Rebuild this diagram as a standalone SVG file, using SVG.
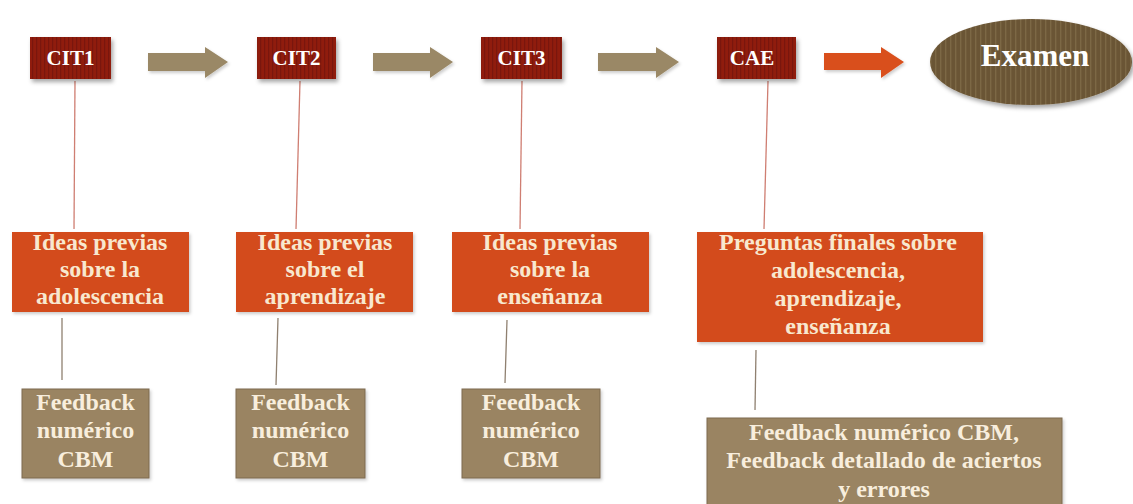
<svg xmlns="http://www.w3.org/2000/svg" width="1133" height="504" viewBox="0 0 1133 504">
  <style>
    .lbl { font-family: "Liberation Serif", "Times New Roman", serif; font-weight: bold; text-anchor: middle; }
    .cit { fill: url(#stripeRed); filter: url(#shadow); }
    .cit-t { font-size: 21px; fill: #FFFFFF; }
    .idea { fill: #D34B1B; filter: url(#soft); }
    .idea-t { font-size: 24px; fill: #F8E8CF; }
    .fb { fill: #9A8462; stroke: #7C6A50; stroke-width: 1; filter: url(#soft); }
    .fb-t { font-size: 24px; fill: #F8EEDD; }
    .link-top { stroke: #CF7E72; stroke-width: 1.3; fill: none; }
    .link-bot { stroke: #8F8070; stroke-width: 1.3; fill: none; }
    .arr-tan { fill: #9A8866; filter: url(#soft); }
    .arr-red { fill: #D9501E; filter: url(#soft); }
  </style>
  <defs>
    <pattern id="stripeRed" width="4" height="10" patternUnits="userSpaceOnUse">
      <rect width="4" height="10" fill="#901C10"/>
      <rect width="1.3" height="10" fill="#7A140A"/>
    </pattern>
    <pattern id="stripeBrown" width="5" height="10" patternUnits="userSpaceOnUse">
      <rect width="5" height="10" fill="#6A5535"/>
      <rect width="1.4" height="10" fill="#7C6744"/>
    </pattern>
    <filter id="shadow" x="-20%" y="-20%" width="150%" height="160%">
      <feDropShadow dx="2" dy="3" stdDeviation="2" flood-color="#000" flood-opacity="0.35"/>
    </filter>
    <filter id="soft" x="-20%" y="-20%" width="150%" height="160%">
      <feDropShadow dx="1.5" dy="2" stdDeviation="1.5" flood-color="#000" flood-opacity="0.2"/>
    </filter>
  </defs>

  <rect width="1133" height="504" fill="#FFFFFF"/>

  <!-- connectors -->
  <g id="connectors">
    <line class="link-top" x1="75" y1="81" x2="74" y2="229"/>
    <line class="link-top" x1="300" y1="81" x2="296" y2="229"/>
    <line class="link-top" x1="522" y1="81" x2="520" y2="229"/>
    <line class="link-top" x1="768" y1="81" x2="764" y2="229"/>
    <line class="link-bot" x1="62" y1="318" x2="62" y2="380"/>
    <line class="link-bot" x1="278" y1="318" x2="276" y2="385"/>
    <line class="link-bot" x1="507" y1="320" x2="505" y2="383"/>
    <line class="link-bot" x1="756" y1="350" x2="755" y2="410"/>
    <polygon class="arr-tan" points="148,53 205,53 205,47 228,62 205,78 205,71 148,71"/>
    <polygon class="arr-tan" points="373,53 430,53 430,47 453,62 430,78 430,71 373,71"/>
    <polygon class="arr-tan" points="598,53 656,53 656,47 679,62 656,78 656,71 598,71"/>
    <polygon class="arr-red" points="824,53 881,53 881,47 904,62 881,78 881,70 824,70"/>
  </g>

  <!-- top row -->
  <g id="cit1">
    <rect class="cit" x="30" y="37" width="81" height="42"/>
    <text class="lbl cit-t" x="70.5" y="65">CIT1</text>
  </g>
  <g id="cit2">
    <rect class="cit" x="257" y="37" width="79" height="42"/>
    <text class="lbl cit-t" x="296.5" y="65">CIT2</text>
  </g>
  <g id="cit3">
    <rect class="cit" x="481" y="37" width="81" height="42"/>
    <text class="lbl cit-t" x="521.5" y="65">CIT3</text>
  </g>
  <g id="cae">
    <rect class="cit" x="717" y="37" width="79" height="42"/>
    <text class="lbl cit-t" x="752" y="65">CAE</text>
  </g>
  <g id="examen">
    <ellipse cx="1031" cy="62" rx="101" ry="43" fill="url(#stripeBrown)" filter="url(#shadow)"/>
    <text class="lbl" x="1035" y="66" font-size="31" fill="#FFFFFF">Examen</text>
  </g>

  <!-- middle row -->
  <g id="ideas-adolescencia">
    <rect class="idea" x="12" y="232" width="177" height="80"/>
    <text class="lbl idea-t" x="100" y="250">Ideas previas</text>
    <text class="lbl idea-t" x="100" y="277">sobre la</text>
    <text class="lbl idea-t" x="100" y="304">adolescencia</text>
  </g>
  <g id="ideas-aprendizaje">
    <rect class="idea" x="236" y="232" width="177" height="80"/>
    <text class="lbl idea-t" x="325" y="250">Ideas previas</text>
    <text class="lbl idea-t" x="325" y="277">sobre el</text>
    <text class="lbl idea-t" x="325" y="304">aprendizaje</text>
  </g>
  <g id="ideas-ensenanza">
    <rect class="idea" x="452" y="232" width="197" height="80"/>
    <text class="lbl idea-t" x="550" y="250">Ideas previas</text>
    <text class="lbl idea-t" x="550" y="277">sobre la</text>
    <text class="lbl idea-t" x="550" y="304">enseñanza</text>
  </g>
  <g id="preguntas-finales">
    <rect class="idea" x="697" y="232" width="286" height="110"/>
    <text class="lbl idea-t" x="838" y="250">Preguntas finales sobre</text>
    <text class="lbl idea-t" x="838" y="278">adolescencia,</text>
    <text class="lbl idea-t" x="838" y="306">aprendizaje,</text>
    <text class="lbl idea-t" x="838" y="334">enseñanza</text>
  </g>

  <!-- bottom row -->
  <g id="feedback1">
    <rect class="fb" x="22" y="389" width="127" height="89"/>
    <text class="lbl fb-t" x="85.5" y="410">Feedback</text>
    <text class="lbl fb-t" x="85.5" y="438">numérico</text>
    <text class="lbl fb-t" x="85.5" y="467">CBM</text>
  </g>
  <g id="feedback2">
    <rect class="fb" x="236" y="389" width="129" height="89"/>
    <text class="lbl fb-t" x="300.5" y="410">Feedback</text>
    <text class="lbl fb-t" x="300.5" y="438">numérico</text>
    <text class="lbl fb-t" x="300.5" y="467">CBM</text>
  </g>
  <g id="feedback3">
    <rect class="fb" x="462" y="389" width="138" height="89"/>
    <text class="lbl fb-t" x="531" y="410">Feedback</text>
    <text class="lbl fb-t" x="531" y="438">numérico</text>
    <text class="lbl fb-t" x="531" y="467">CBM</text>
  </g>
  <g id="feedback-final">
    <rect class="fb" x="707" y="418" width="355" height="92"/>
    <text class="lbl fb-t" x="884" y="440">Feedback numérico CBM,</text>
    <text class="lbl fb-t" x="884" y="468">Feedback detallado de aciertos</text>
    <text class="lbl fb-t" x="884" y="497">y errores</text>
  </g>
</svg>
